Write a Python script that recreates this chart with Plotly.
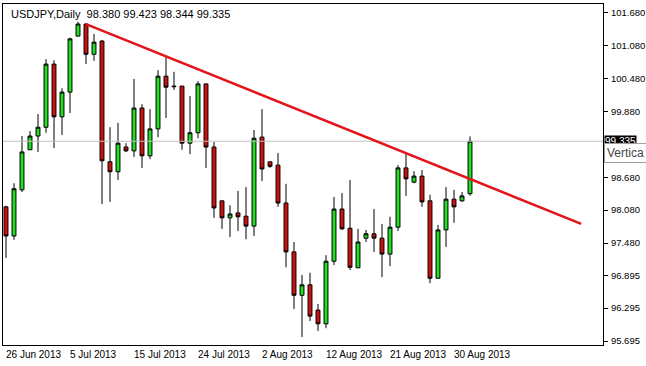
import plotly.graph_objects as go

# ---- data (USDJPY daily) ----
bar_index = list(range(59))
opens = [98.14, 97.61, 98.45, 99.18, 99.43, 99.59, 100.74, 99.78, 100.23, 101.25,
         101.47, 100.92, 101.16, 98.96, 98.78, 99.23, 99.16, 99.94, 99.07, 99.56,
         100.52, 100.34, 100.34, 99.30, 99.49, 100.38, 99.23, 98.25, 97.94, 98.03,
         97.97, 97.79, 99.41, 98.96, 98.90, 98.21, 97.32, 96.53, 96.72, 96.26,
         96.01, 97.15, 98.10, 97.75, 97.03, 97.57, 97.65, 97.57, 97.28, 97.77,
         98.85, 98.59, 98.70, 98.25, 96.84, 97.72, 98.28, 98.25, 98.380]
highs = [98.16, 98.57, 99.43, 99.52, 99.83, 100.83, 100.81, 100.30, 101.22, 101.51,
         101.48, 101.29, 101.18, 99.59, 99.67, 99.30, 100.47, 100.01, 99.92, 100.63,
         100.87, 100.60, 100.34, 100.16, 100.43, 100.38, 99.32, 98.25, 98.17, 98.43,
         98.50, 99.54, 99.92, 98.96, 99.12, 98.56, 97.50, 96.90, 96.94, 96.37,
         97.26, 98.32, 98.39, 98.63, 97.74, 97.72, 98.10, 97.83, 97.96, 98.90,
         99.12, 98.79, 98.81, 98.36, 97.81, 98.50, 98.45, 98.41, 99.423]
lows = [97.21, 97.54, 98.41, 99.18, 99.14, 99.49, 99.21, 99.45, 99.85, 101.25,
        100.74, 100.80, 98.19, 98.23, 98.63, 99.14, 99.05, 98.85, 99.01, 99.41,
        99.76, 100.27, 99.18, 99.10, 99.39, 98.85, 97.94, 97.74, 97.59, 97.70,
        97.55, 97.61, 98.61, 98.85, 98.14, 97.04, 96.28, 95.77, 96.06, 95.88,
        95.93, 97.08, 97.72, 96.99, 97.03, 97.50, 97.32, 96.86, 97.06, 97.70,
        98.34, 98.57, 98.14, 96.75, 96.84, 97.41, 97.85, 98.23, 98.344]
closes = [97.61, 98.47, 99.14, 99.43, 99.59, 100.74, 99.78, 100.23, 101.20, 101.47,
          100.92, 101.14, 98.98, 98.78, 99.30, 99.16, 99.94, 99.07, 99.56, 100.52,
          100.32, 100.33, 99.30, 99.49, 100.38, 99.23, 98.12, 97.94, 98.01, 97.96,
          97.79, 99.39, 98.83, 98.88, 98.21, 97.32, 96.53, 96.72, 96.15, 96.01,
          97.15, 98.10, 97.74, 97.04, 97.50, 97.65, 97.57, 97.28, 97.77, 98.85,
          98.65, 98.70, 98.23, 96.84, 97.72, 98.28, 98.14, 98.34, 99.335]

date_tick_index = [0, 8, 16, 24, 32, 40, 48, 56]
date_tick_labels = ["26 Jun 2013", "5 Jul 2013", "15 Jul 2013", "24 Jul 2013",
                    "2 Aug 2013", "12 Aug 2013", "21 Aug 2013", "30 Aug 2013"]
price_ticks = [101.680, 101.080, 100.480, 99.880, 98.680, 98.080, 97.480,
               96.895, 96.295, 95.695]

trend_x = [10, 71.9]
trend_y = [101.47, 97.83]

symbol_title = "USDJPY,Daily"
tooltip_text = "Vertica"

FONT = "Liberation Sans"

fig = go.Figure()

# current price line
fig.add_trace(go.Scatter(
    x=[-0.375, 74.625], y=[closes[-1], closes[-1]], mode="lines",
    line=dict(color="#c0c0c0", width=1), hoverinfo="skip", showlegend=False))

fig.add_trace(go.Candlestick(
    x=bar_index, open=opens, high=highs, low=lows, close=closes,
    increasing=dict(line=dict(color="black", width=1), fillcolor="#22dd22"),
    decreasing=dict(line=dict(color="black", width=1), fillcolor="#d01010"),
    whiskerwidth=0, showlegend=False))

fig.add_trace(go.Scatter(
    x=trend_x, y=trend_y, mode="lines",
    line=dict(color="#e3141b", width=2.5), hoverinfo="skip", showlegend=False))

title_text = "%s  %.3f %.3f %.3f %.3f" % (symbol_title, opens[-1], highs[-1], lows[-1], closes[-1])

annotations = [
    dict(text=title_text, xref="paper", yref="paper", x=0.01, y=0.995,
         xanchor="left", yanchor="top", showarrow=False,
         font=dict(family=FONT, size=11, color="black")),
    dict(text="%.3f" % closes[-1], xref="paper", yref="y", x=1.0, y=closes[-1],
         xanchor="left", yanchor="middle", showarrow=False, xshift=1,
         bgcolor="black", font=dict(family=FONT, size=10, color="white"),
         borderpad=0),
    dict(text=tooltip_text, xref="paper", yref="y", x=1.0, y=closes[-1],
         xanchor="left", yanchor="top", showarrow=False, xshift=1, yshift=-2,
         bgcolor="white", bordercolor="#a0a0a0", borderwidth=1, borderpad=2,
         font=dict(family=FONT, size=12, color="#444444")),
]
for idx, lab in zip(date_tick_index, date_tick_labels):
    annotations.append(dict(text=lab, xref="x", yref="paper", x=idx, y=0,
                            xanchor="left", yanchor="top", showarrow=False,
                            xshift=-2, yshift=-2,
                            font=dict(family=FONT, size=10, color="black")))

fig.update_layout(
    width=646, height=366,
    margin=dict(l=3, r=43, t=4, b=21),
    paper_bgcolor="white", plot_bgcolor="white",
    font=dict(family=FONT, size=10, color="black"),
    showlegend=False,
    xaxis=dict(
        range=[-0.375, 74.625], rangeslider=dict(visible=False),
        tickmode="array", tickvals=date_tick_index, ticktext=date_tick_labels,
        showticklabels=False, ticks="", automargin=False,
        showgrid=False, zeroline=False,
        showline=True, linecolor="black", linewidth=1, mirror=True),
    yaxis=dict(
        range=[95.624, 101.835], side="right", automargin=False,
        tickmode="array", tickvals=price_ticks,
        ticktext=["%.3f" % v for v in price_ticks],
        ticks="outside", ticklen=4, tickcolor="black", ticklabelstandoff=1,
        showgrid=False, zeroline=False,
        showline=True, linecolor="black", linewidth=1, mirror=True,
        tickfont=dict(family=FONT, size=9.5, color="black")),
    annotations=annotations,
)

fig.write_html("out.html",
               config={"displayModeBar": False},
               post_script="document.body.style.margin='0';document.body.style.overflow='hidden';")
